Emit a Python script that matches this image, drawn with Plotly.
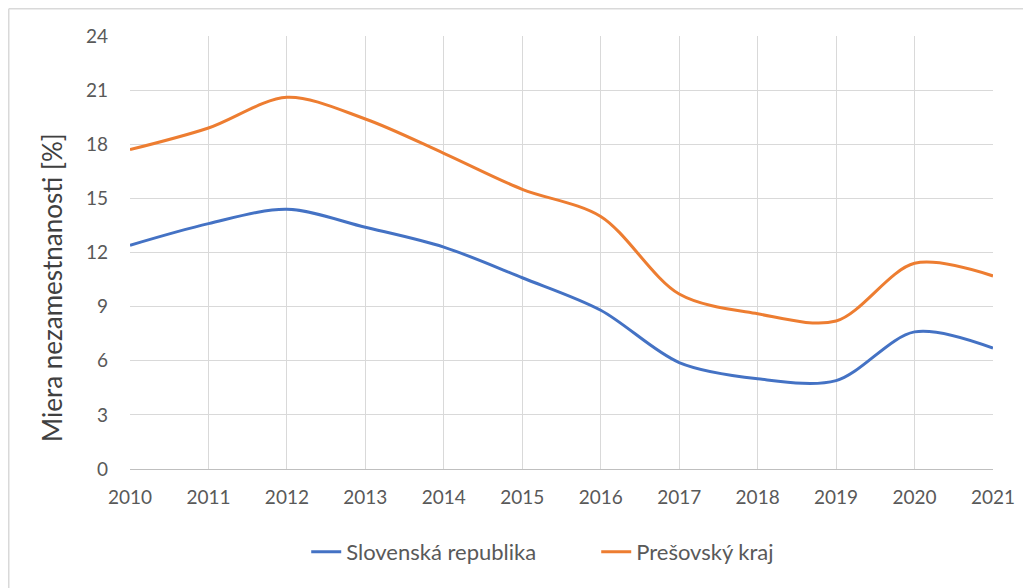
import plotly.graph_objects as go

years = [2010, 2011, 2012, 2013, 2014, 2015, 2016, 2017, 2018, 2019, 2020, 2021]
slovensko = [12.4, 13.6, 14.4, 13.4, 12.3, 10.6, 8.8, 5.9, 5.0, 4.9, 7.6, 6.7]
presov = [17.7, 18.9, 20.6, 19.4, 17.5, 15.5, 14.0, 9.7, 8.6, 8.2, 11.4, 10.7]
series_names = ["Slovenská republika", "Prešovský kraj"]
y_ticks = [0, 3, 6, 9, 12, 15, 18, 21, 24]
y_title = "Miera nezamestnanosti [%]"

# page has an 8px body margin, so the figure is sized for the remaining area
W, H = 1023, 580
L, T = 122, 28
pw, ph = 863, 433
R, B = W - L - pw, H - T - ph

fig = go.Figure()
fig.add_trace(go.Scatter(x=years, y=slovensko, name=series_names[0], mode="lines",
                         line=dict(color="#4472C4", width=3, shape="spline", smoothing=0.9)))
fig.add_trace(go.Scatter(x=years, y=presov, name=series_names[1], mode="lines",
                         line=dict(color="#ED7D31", width=3, shape="spline", smoothing=0.9)))

font_family = "Lato, 'Open Sans', sans-serif"

fig.update_layout(
    width=W, height=H,
    margin=dict(l=L, r=R, t=T, b=B),
    paper_bgcolor="white", plot_bgcolor="white",
    font=dict(family=font_family, color="#595959", size=19),
    showlegend=True,
    legend=dict(orientation="h", xref="container", yref="container",
                x=0.575, y=0.062, xanchor="center", yanchor="middle",
                font=dict(size=22, color="#595959"),
                entrywidth=245, entrywidthmode="pixels",
                traceorder="normal"),
    xaxis=dict(range=[2010, 2021], tickmode="array", tickvals=years,
               ticktext=[str(y) for y in years],
               showgrid=True, gridcolor="#d9d9d9", gridwidth=1,
               showline=True, linecolor="#bfbfbf", linewidth=1, mirror=False,
               zeroline=False, ticks="", ticklen=0, ticklabelstandoff=11,
               tickfont=dict(size=19, color="#595959")),
    yaxis=dict(range=[0, 24], tickmode="array", tickvals=y_ticks,
               showgrid=True, gridcolor="#d9d9d9", gridwidth=1,
               zeroline=False, showline=False, ticks="", ticklabelstandoff=21,
               tickfont=dict(size=19, color="#595959")),
)

# y-axis title placed where the reference shows it
fig.add_annotation(text=y_title, xref="paper", yref="paper",
                   x=(44 - L) / pw, y=1 - (280 - T) / ph,
                   xanchor="center", yanchor="middle", textangle=-90,
                   showarrow=False, font=dict(size=26, color="#404040"))

# outer chart border (top and left)
bx = (0.75 - L) / pw
ty = 1 + (T - 0.75) / ph
fig.add_shape(type="line", xref="paper", yref="paper", x0=bx, x1=(W - L) / pw + 0.01,
              y0=ty, y1=ty, line=dict(color="#d9d9d9", width=1.5))
fig.add_shape(type="line", xref="paper", yref="paper", x0=bx, x1=bx,
              y0=ty, y1=-(B + 5) / ph, line=dict(color="#d9d9d9", width=1.5))

fig.write_html("out.html")
